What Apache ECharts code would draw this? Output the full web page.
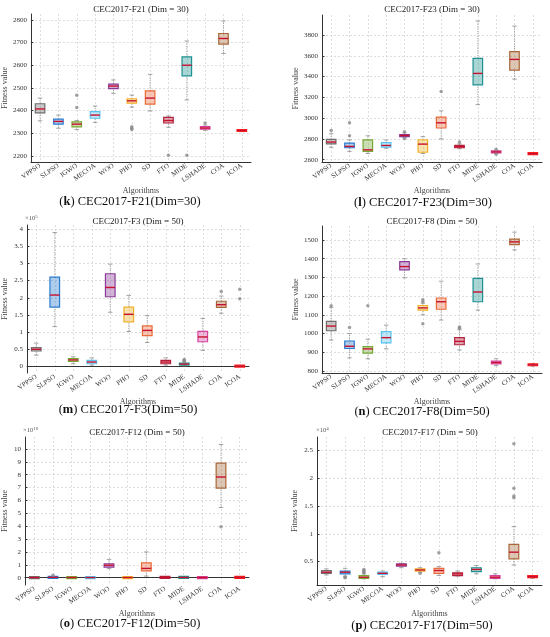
<!DOCTYPE html>
<html>
<head>
<meta charset="utf-8">
<script src="https://cdn.jsdelivr.net/npm/echarts@6/dist/echarts.min.js"></script>
<style>
  html, body { margin: 0; padding: 0; background: #fff; }
  #chart { width: 550px; height: 637px; }
</style>
</head>
<body>
<div id="chart"></div>
<script>
var algorithms = ['VPPSO', 'SLPSO', 'IGWO', 'MECOA', 'WOO', 'PHO', 'SD', 'FTO', 'MIDE', 'LSHADE', 'COA', 'ICOA'];
var algoColors = ['#6e6e6e', '#2a7ccf', '#76a934', '#58c3f0', '#8a3b98', '#f0b12a', '#eb6a3a', '#b0213c', '#1f9191', '#d6429e', '#a8683a', '#ff1e1e'];

// 每个算法: [min, Q1, median, Q3, max]
var f21Box = [
  [2354, 2390, 2407, 2430, 2455],
  [2322, 2340, 2352, 2362, 2380],
  [2316, 2328, 2340, 2350, 2356],
  [2348, 2366, 2380, 2395, 2420],
  [2476, 2497, 2508, 2517, 2535],
  [2415, 2433, 2443, 2452, 2468],
  [2398, 2428, 2455, 2487, 2560],
  [2326, 2345, 2356, 2370, 2376],
  [2447, 2553, 2600, 2637, 2707],
  [2313, 2318, 2323, 2329, 2336],
  [2652, 2693, 2718, 2740, 2795],
  [2307, 2309, 2312, 2314, 2316]
];
var f21Out = [[2, 2468], [2, 2413], [5, 2328], [5, 2322], [5, 2316], [7, 2203], [8, 2203], [9, 2345]];
var f21Ticks = [2200, 2300, 2400, 2500, 2600, 2700, 2800];

var f23Box = [
  [2720, 2752, 2770, 2795, 2850],
  [2680, 2715, 2728, 2760, 2790],
  [2660, 2680, 2695, 2790, 2830],
  [2710, 2722, 2737, 2765, 2790],
  [2812, 2822, 2833, 2842, 2858],
  [2660, 2672, 2750, 2792, 2822],
  [2800, 2905, 2955, 3010, 3070],
  [2705, 2715, 2725, 2738, 2752],
  [3130, 3320, 3430, 3575, 3935],
  [2660, 2670, 2675, 2680, 2690],
  [3375, 3462, 3565, 3640, 3885],
  [2650, 2653, 2658, 2663, 2668]
];
var f23Out = [[0, 2880], [1, 2955], [1, 2830], [4, 2870], [4, 2805], [6, 3255], [7, 2770], [9, 2700], [9, 2652]];
var f23Ticks = [2600, 2800, 3000, 3200, 3400, 3600, 3800];

// 单位 x10^5
var f3Box = [
  [0.33, 0.45, 0.50, 0.55, 0.68],
  [1.16, 1.73, 2.08, 2.60, 3.90],
  [0.08, 0.15, 0.19, 0.23, 0.28],
  [0.04, 0.08, 0.13, 0.18, 0.25],
  [1.58, 2.03, 2.30, 2.70, 2.98],
  [1.02, 1.30, 1.52, 1.73, 2.07],
  [0.70, 0.90, 1.05, 1.18, 1.48],
  [0.04, 0.08, 0.13, 0.18, 0.25],
  [0.02, 0.04, 0.07, 0.10, 0.13],
  [0.47, 0.72, 0.86, 1.02, 1.40],
  [1.55, 1.72, 1.80, 1.90, 2.05],
  [0.00, 0.005, 0.01, 0.015, 0.02]
];
var f3Out = [[8, 0.15], [8, 0.18], [8, 0.20], [10, 2.18], [11, 2.25], [11, 1.97]];
var f3Ticks = [0, 0.5, 1, 1.5, 2, 2.5, 3, 3.5, 4];

var f8Box = [
  [965, 1015, 1040, 1065, 1140],
  [870, 920, 932, 960, 1000],
  [865, 895, 918, 930, 970],
  [918, 950, 978, 1010, 1045],
  [1298, 1340, 1358, 1385, 1400],
  [1100, 1125, 1137, 1150, 1162],
  [1072, 1130, 1170, 1190, 1280],
  [912, 940, 958, 978, 1020],
  [1125, 1170, 1222, 1295, 1372],
  [828, 838, 845, 852, 865],
  [1447, 1475, 1490, 1505, 1542],
  [826, 829, 833, 837, 840]
];
var f8Out = [[0, 1148], [1, 1032], [2, 1148], [5, 1180], [5, 1170], [5, 1052], [7, 1035], [7, 1028]];
var f8Ticks = [800, 900, 1000, 1100, 1200, 1300, 1400, 1500];

// 单位 x10^10
var f12Box = [
  [0.00, 0.005, 0.01, 0.02, 0.03],
  [0.00, 0.01, 0.03, 0.05, 0.08],
  [0.00, 0.005, 0.01, 0.015, 0.02],
  [0.00, 0.005, 0.01, 0.015, 0.02],
  [0.70, 0.82, 0.97, 1.08, 1.42],
  [0.00, 0.005, 0.01, 0.015, 0.02],
  [0.12, 0.52, 0.72, 1.15, 2.00],
  [0.00, 0.01, 0.02, 0.03, 0.04],
  [0.00, 0.01, 0.02, 0.03, 0.04],
  [0.00, 0.005, 0.01, 0.015, 0.02],
  [5.45, 6.95, 7.82, 8.90, 10.35],
  [0.00, 0.01, 0.02, 0.03, 0.04]
];
var f12Out = [[1, 0.18], [10, 3.95]];
var f12Ticks = [0, 1, 2, 3, 4, 5, 6, 7, 8, 9, 10];

// 单位 x10^4
var f17Box = [
  [0.26, 0.29, 0.31, 0.34, 0.37],
  [0.24, 0.28, 0.31, 0.33, 0.38],
  [0.19, 0.20, 0.22, 0.25, 0.28],
  [0.23, 0.27, 0.29, 0.31, 0.33],
  [0.39, 0.42, 0.44, 0.46, 0.47],
  [0.31, 0.33, 0.35, 0.37, 0.39],
  [0.25, 0.29, 0.34, 0.38, 0.41],
  [0.24, 0.25, 0.28, 0.30, 0.33],
  [0.28, 0.32, 0.36, 0.39, 0.43],
  [0.19, 0.20, 0.22, 0.25, 0.28],
  [0.44, 0.55, 0.67, 0.81, 1.13],
  [0.20, 0.21, 0.23, 0.24, 0.25]
];
var f17Out = [[1, 0.22], [1, 0.21], [2, 0.30], [2, 0.32], [2, 0.34], [2, 0.36], [5, 0.29], [6, 0.66], [10, 1.65], [10, 1.68], [10, 1.82], [10, 2.62]];
var f17Ticks = [0.5, 1, 1.5, 2, 2.5];

var serif = "'Liberation Serif', 'DejaVu Serif', serif";

// 子图设置
var panels = [
  { box: f21Box, out: f21Out, ticks: f21Ticks, min: 2173, max: 2826, grid: [30, 14, 221, 148], gap: 21,
    title: 'CEC2017-F21 (Dim = 30)', tag: 'k', sub: ' CEC2017-F21(Dim=30)', tx: 141, ty: 10, sx: 130, sy: 202 },
  { box: f23Box, out: f23Out, ticks: f23Ticks, min: 2578, max: 3992, grid: [322, 15, 220, 147], gap: 21,
    title: 'CEC2017-F23 (Dim = 30)', tag: 'l', sub: ' CEC2017-F23(Dim=30)', tx: 432, ty: 10, sx: 423, sy: 203 },
  { box: f3Box, out: f3Out, ticks: f3Ticks, min: -0.19, max: 4.12, grid: [26, 225, 223, 148], gap: 18,
    title: 'CEC2017-F3 (Dim = 50)', tag: 'm', sub: ' CEC2017-F3(Dim=50)', tx: 138, ty: 222, sx: 128, sy: 410, exp: '5' },
  { box: f8Box, out: f8Out, ticks: f8Ticks, min: 789, max: 1575, grid: [322, 226, 220, 147], gap: 22,
    title: 'CEC2017-F8 (Dim = 50)', tag: 'n', sub: ' CEC2017-F8(Dim=50)', tx: 432, ty: 222, sx: 422, sy: 412 },
  { box: f12Box, out: f12Out, ticks: f12Ticks, min: -0.57, max: 10.93, grid: [24, 437, 225, 148], gap: 16,
    title: 'CEC2017-F12 (Dim = 50)', tag: 'o', sub: ' CEC2017-F12(Dim=50)', tx: 137, ty: 433, sx: 130, sy: 624, exp: '10' },
  { box: f17Box, out: f17Out, ticks: f17Ticks, min: 0.08, max: 2.74, grid: [317, 437, 225, 148], gap: 18,
    title: 'CEC2017-F17 (Dim = 50)', tag: 'p', sub: ' CEC2017-F17(Dim=50)', tx: 430, ty: 433, sx: 422, sy: 626, exp: '4' }
];

function fade(hex, a) {
  var n = parseInt(hex.slice(1), 16);
  return 'rgba(' + (n >> 16 & 255) + ',' + (n >> 8 & 255) + ',' + (n & 255) + ',' + a + ')';
}

function renderBox(params, api) {
  var i = api.value(0);
  var lo = api.coord([i, api.value(1)]);
  var q1 = api.coord([i, api.value(2)]);
  var md = api.coord([i, api.value(3)]);
  var q3 = api.coord([i, api.value(4)]);
  var hi = api.coord([i, api.value(5)]);
  var band = api.size([1, 0])[0];
  var hw = band * 0.26, cw = band * 0.12;
  var c = algoColors[i];
  var top = q3[1], h = q1[1] - q3[1];
  if (h < 2) { top = md[1] - 1; h = 2; }
  var wsk = { stroke: '#8c8c8c', lineWidth: 0.8, lineDash: [1.2, 1.2] };
  var cap = { stroke: '#8c8c8c', lineWidth: 0.8 };
  return {
    type: 'group',
    children: [
      { type: 'line', shape: { x1: lo[0], y1: lo[1], x2: q1[0], y2: q1[1] }, style: wsk },
      { type: 'line', shape: { x1: q3[0], y1: q3[1], x2: hi[0], y2: hi[1] }, style: wsk },
      { type: 'line', shape: { x1: lo[0] - cw, y1: lo[1], x2: lo[0] + cw, y2: lo[1] }, style: cap },
      { type: 'line', shape: { x1: hi[0] - cw, y1: hi[1], x2: hi[0] + cw, y2: hi[1] }, style: cap },
      { type: 'rect', shape: { x: md[0] - hw, y: top, width: hw * 2, height: h },
        style: { fill: fade(c, 0.38), stroke: c, lineWidth: 1.2 } },
      { type: 'line', shape: { x1: md[0] - hw, y1: md[1], x2: md[0] + hw, y2: md[1] },
        style: { stroke: '#c8102e', lineWidth: 1.4 } }
    ]
  };
}

var grids = [], xAxes = [], yAxes = [], series = [], graphics = [];
panels.forEach(function (p, k) {
  grids.push({ left: p.grid[0], top: p.grid[1], width: p.grid[2], height: p.grid[3] });
  xAxes.push({
    type: 'category', gridIndex: k, data: algorithms,
    name: 'Algorithms', nameLocation: 'middle', nameGap: 25,
    nameTextStyle: { fontFamily: serif, fontSize: 8, color: '#444' },
    axisLine: { lineStyle: { color: '#333', width: 1 } },
    axisTick: { inside: true, alignWithLabel: true, length: 2.5, lineStyle: { color: '#333' } },
    axisLabel: { interval: 0, rotate: 35, fontFamily: serif, fontSize: 7, color: '#333', margin: 3 },
    splitLine: { show: true, alignWithLabel: true, lineStyle: { color: '#cfcfcf', type: [2, 2], width: 0.7 } }
  });
  yAxes.push({
    type: 'value', gridIndex: k, min: p.min, max: p.max,
    name: 'Fitness value', nameLocation: 'middle', nameGap: p.gap,
    nameTextStyle: { fontFamily: serif, fontSize: 8, color: '#444' },
    axisLine: { show: true, lineStyle: { color: '#333', width: 1 } },
    axisTick: { show: true, inside: true, length: 2.5, customValues: p.ticks, lineStyle: { color: '#333' } },
    axisLabel: {
      customValues: p.ticks, fontFamily: serif, fontSize: 7, color: '#333', margin: 4,
      formatter: function (v) { return String(v); }
    },
    splitLine: { show: true, lineStyle: { color: '#cfcfcf', type: [2, 2], width: 0.7 } }
  });
  series.push({
    type: 'custom', xAxisIndex: k, yAxisIndex: k, renderItem: renderBox,
    encode: { x: 0, y: [1, 2, 3, 4, 5] },
    data: p.box.map(function (b, i) { return [i].concat(b); }),
    z: 3
  });
  series.push({
    type: 'scatter', xAxisIndex: k, yAxisIndex: k, data: p.out,
    symbol: 'circle', symbolSize: 3.5, itemStyle: { color: '#8a8a8a' }, z: 4
  });
  graphics.push({
    type: 'text', x: p.tx, y: p.ty,
    style: { text: p.title, fontFamily: serif, fontSize: 9, fill: '#222', align: 'center', verticalAlign: 'middle' }
  });
  graphics.push({
    type: 'text', x: p.sx, y: p.sy,
    style: {
      text: '({b|' + p.tag + '})' + p.sub, fontFamily: serif, fontSize: 12.5, fill: '#111',
      align: 'center', verticalAlign: 'middle',
      rich: { b: { fontFamily: serif, fontSize: 12.5, fontWeight: 'bold', fill: '#111' } }
    }
  });
  if (p.exp) {
    graphics.push({
      type: 'text', x: p.grid[0] - 1, y: p.grid[1] - 2,
      style: {
        text: '×10{s|' + p.exp + '}', fontFamily: serif, fontSize: 6.5, fill: '#555',
        align: 'left', verticalAlign: 'bottom',
        rich: { s: { fontFamily: serif, fontSize: 5, fill: '#555', verticalAlign: 'top', padding: [0, 0, 4, 0] } }
      }
    });
  }
});

var myChart = echarts.init(document.getElementById('chart'));
myChart.setOption({
  animation: false,
  backgroundColor: '#fff',
  grid: grids,
  xAxis: xAxes,
  yAxis: yAxes,
  series: series,
  graphic: graphics
});
</script>
</body>
</html>
